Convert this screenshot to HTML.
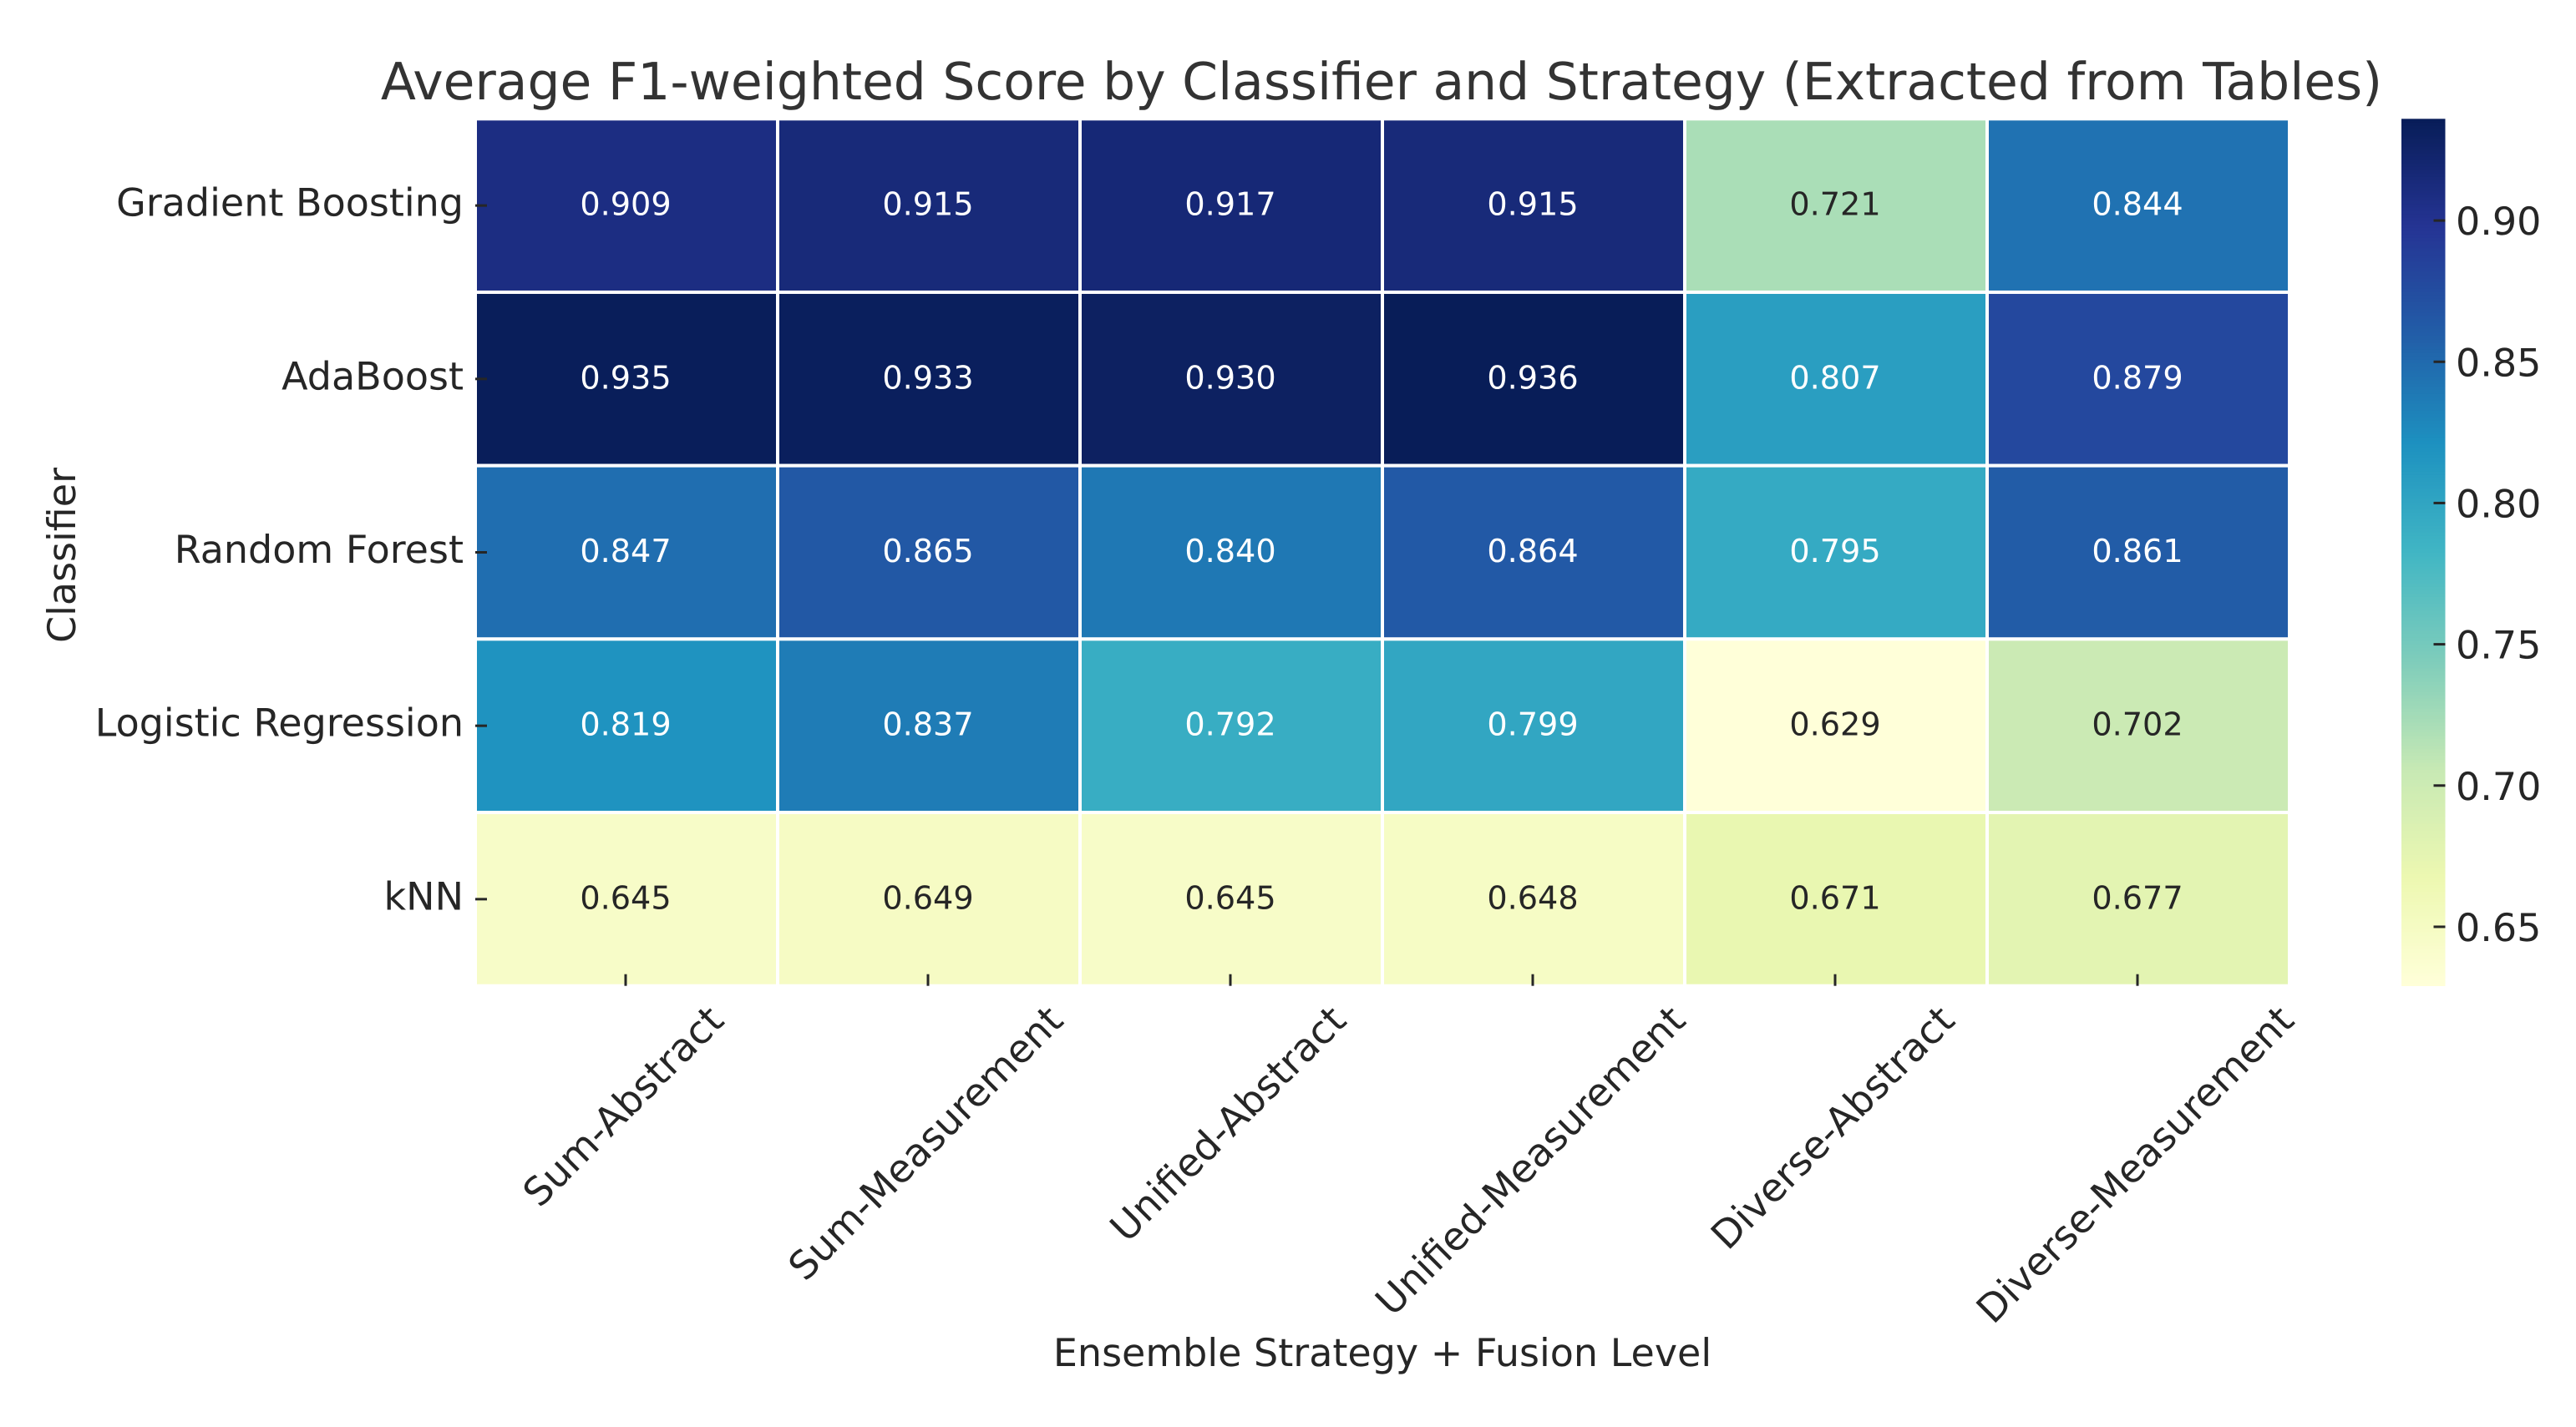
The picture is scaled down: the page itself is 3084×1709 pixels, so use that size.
<!DOCTYPE html>
<html lang="en">
<head>
<meta charset="utf-8">
<title>Average F1-weighted Score by Classifier and Strategy</title>
<style>
html,body{margin:0;padding:0;background:#fff;width:3084px;height:1709px;overflow:hidden}
svg{display:block;font-family:"DejaVu Sans","Liberation Sans",sans-serif;text-rendering:geometricPrecision}
</style>
</head>
<body>
<svg id="chart" xmlns="http://www.w3.org/2000/svg" width="3084" height="1709" viewBox="0 0 3084 1709">
  <rect x="0" y="0" width="3084" height="1709" fill="#ffffff"></rect>
  <text x="1654" y="119" font-size="61.5" fill="#333333" text-anchor="middle">Average F1-weighted Score by Classifier and Strategy (Extracted from Tables)</text>
  <text x="1655" y="1636" font-size="46" fill="#262626" text-anchor="middle">Ensemble Strategy + Fusion Level</text>
  <text transform="translate(90 665) rotate(-90)" font-size="46" fill="#262626" text-anchor="middle">Classifier</text>
  <g id="cells"></g>
  <g id="annotations"></g>
  <g id="x-axis"></g>
  <g id="y-axis"></g>
  <g id="colorbar"></g>
</svg>
<script>
const classifiers = ["Gradient Boosting", "AdaBoost", "Random Forest", "Logistic Regression", "kNN"];
const strategies = ["Sum-Abstract", "Sum-Measurement", "Unified-Abstract", "Unified-Measurement", "Diverse-Abstract", "Diverse-Measurement"];
const gradientBoostingScores = [0.909, 0.915, 0.917, 0.915, 0.721, 0.844];
const adaBoostScores = [0.935, 0.933, 0.930, 0.936, 0.807, 0.879];
const randomForestScores = [0.847, 0.865, 0.840, 0.864, 0.795, 0.861];
const logisticRegressionScores = [0.819, 0.837, 0.792, 0.799, 0.629, 0.702];
const knnScores = [0.645, 0.649, 0.645, 0.648, 0.671, 0.677];
const colorbarTickLabels = ["0.65", "0.70", "0.75", "0.80", "0.85", "0.90"];

const scoreRows = [gradientBoostingScores, adaBoostScores, randomForestScores, logisticRegressionScores, knnScores];

const SVG_NS = "http://www.w3.org/2000/svg";
const plot = { left: 569, right: 2741, top: 142.3, bottom: 1180.7 };
const bar = { left: 2875, right: 2927.5, top: 142.3, bottom: 1181 };
const ramp = [[255,255,217],[237,248,177],[199,233,180],[127,205,187],[65,182,196],[29,145,192],[34,94,168],[37,52,148],[8,29,88]];

const allScores = scoreRows.flat();
const scoreMin = Math.min.apply(null, allScores);
const scoreMax = Math.max.apply(null, allScores);

function xScale(i) { return plot.left + i * (plot.right - plot.left) / strategies.length; }
function yScale(j) { return plot.top + j * (plot.bottom - plot.top) / classifiers.length; }
function barScale(v) { return bar.bottom - (v - scoreMin) / (scoreMax - scoreMin) * (bar.bottom - bar.top); }
function colorAt(t) {
  const p = Math.max(0, Math.min(1, t)) * (ramp.length - 1);
  const k = Math.min(ramp.length - 2, Math.floor(p));
  const f = p - k;
  return ramp[k].map(function (c, n) { return c + (ramp[k + 1][n] - c) * f; });
}
function colorScale(v) { return colorAt((v - scoreMin) / (scoreMax - scoreMin)); }
function css(c) { return "rgb(" + c.map(Math.round).join(",") + ")"; }
function luminance(c) {
  const l = c.map(function (x) {
    const s = x / 255;
    return s <= 0.03928 ? s / 12.92 : Math.pow((s + 0.055) / 1.055, 2.4);
  });
  return 0.2126 * l[0] + 0.7152 * l[1] + 0.0722 * l[2];
}
function make(parent, tag, attrs, text) {
  const el = document.createElementNS(SVG_NS, tag);
  Object.keys(attrs).forEach(function (k) { el.setAttribute(k, attrs[k]); });
  if (text !== undefined) el.textContent = text;
  document.getElementById(parent).appendChild(el);
  return el;
}

scoreRows.forEach(function (row, j) {
  row.forEach(function (value, i) {
    const fill = colorScale(value);
    const cell = make("cells", "rect", {
      x: xScale(i), y: yScale(j),
      width: xScale(i + 1) - xScale(i), height: yScale(j + 1) - yScale(j),
      fill: css(fill), stroke: "#ffffff", "stroke-width": 4
    });
    
    
    const label = make("annotations", "text", {
      x: (xScale(i) + xScale(i + 1)) / 2 - 1,
      y: (yScale(j) + yScale(j + 1)) / 2 + 11.5,
      "font-size": 38.2, "text-anchor": "middle",
      fill: luminance(fill) > 0.408 ? "#262626" : "#ffffff"
    }, value.toFixed(3));
    
    
  });
});

strategies.forEach(function (name, i) {
  const cx = (xScale(i) + xScale(i + 1)) / 2;
  const tick = make("x-axis", "line", {
    x1: cx - 1, x2: cx - 1, y1: plot.bottom, y2: plot.bottom - 14,
    stroke: "#262626", "stroke-width": 3
  });
  
  
  const label = make("x-axis", "text", { "font-size": 46.5, "text-anchor": "middle", fill: "#262626" }, name);
  
  
  const w = label.getComputedTextLength();
  const h = 46 * 0.968;
  const cy = 1200 + (w + h) * Math.SQRT1_2 / 2;
  label.setAttribute("transform", "translate(" + (cx - 1.5) + " " + cy + ") rotate(-45) translate(0 " + (46 * 0.276) + ")");
});

classifiers.forEach(function (name, j) {
  const cy = (yScale(j) + yScale(j + 1)) / 2;
  const tick = make("y-axis", "line", {
    x1: plot.left, x2: plot.left + 14, y1: cy, y2: cy,
    stroke: "#262626", "stroke-width": 3
  });
  
  
  const label = make("y-axis", "text", {
    x: 555, y: cy + 12.5, "font-size": 46, "text-anchor": "end", fill: "#262626"
  }, name);
  
  
});

for (let n = 0; n < 256; n++) {
  const lo = scoreMin + (scoreMax - scoreMin) * n / 256;
  const hi = scoreMin + (scoreMax - scoreMin) * (n + 1) / 256;
  const band = make("colorbar", "rect", {
    x: bar.left, y: barScale(hi),
    width: bar.right - bar.left, height: barScale(lo) - barScale(hi) + (n > 0 ? 0.6 : 0),
    fill: css(colorAt((n + 0.5) / 256))
  });
  
  
}

colorbarTickLabels.forEach(function (text) {
  const y = barScale(parseFloat(text));
  const tick = make("colorbar", "line", {
    x1: bar.right - 14, x2: bar.right, y1: y, y2: y,
    stroke: "#262626", "stroke-width": 3
  });
  
  
  const label = make("colorbar", "text", {
    x: 2940, y: y + 17, "font-size": 46, fill: "#262626"
  }, text);
  
  
});
</script>
</body>
</html>
